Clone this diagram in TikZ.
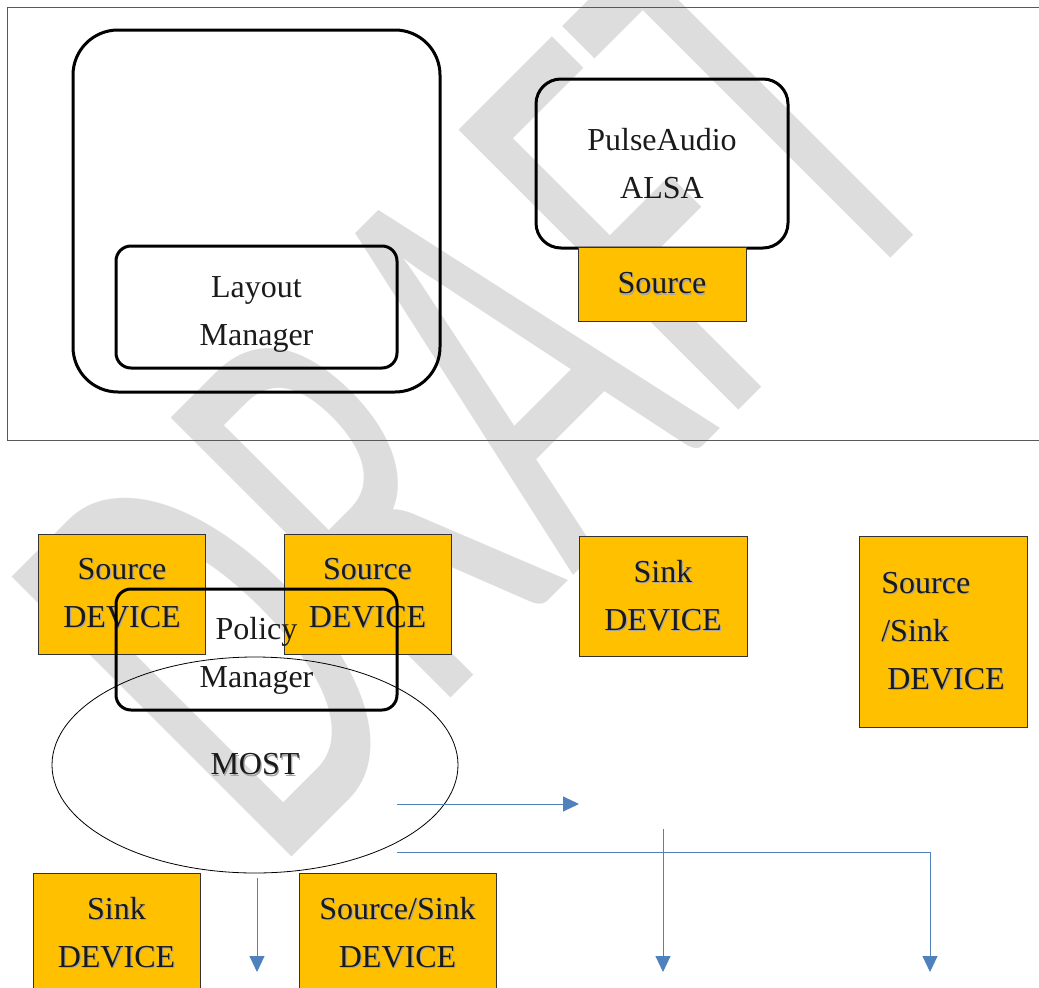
\documentclass[tikz,border=0pt]{standalone}
\usepackage{fontspec}
\setmainfont{Liberation Serif}
\newfontfamily\wmfont{Carlito}
\usepackage{tikz}
\usepackage{xcolor}
\usetikzlibrary{arrows.meta,positioning,shapes.geometric}
\definecolor{amber}  {HTML}{FFC000}
\definecolor{link}   {HTML}{4F81BD}
\definecolor{wmgrey} {HTML}{DDDDDD}
\definecolor{ink}    {HTML}{1A1A1A}

% text with a soft drop shadow
\newcommand{\shd}[1]{\leavevmode\rlap{\kern1.2pt\raisebox{-1.2pt}{\textcolor{black!35}{#1}}}#1}

\tikzset{
  label text/.style={font=\fontsize{32}{48}\selectfont,align=center,inner sep=0pt,text=ink},
  holder/.style={draw=black,line width=3pt,rounded corners=#1,label text},
  device/.style={draw=black!80,line width=0.8pt,fill=amber,label text,
                 minimum width=167pt,minimum height=120pt},
  flow/.style={draw=link,line width=1pt,-{Triangle[length=16pt,width=15pt]}},
}

\begin{document}
\begin{tikzpicture}[x=1pt,y=-1pt]
  \useasboundingbox (0,0) rectangle (1039,988);
  \clip (0,0) rectangle (1039,988);

  % watermark
  \node[anchor=base,rotate=45,inner sep=0pt,text=wmgrey,
        font=\wmfont\fontsize{617}{617}\selectfont] (wmark) at (620,529)
    {\scalebox{0.59}[1]{DRAFT}};

  % upper panel
  \node[draw=black!65,line width=1.2pt,anchor=north west,inner sep=0pt,
        minimum width=1060pt,minimum height=433pt] (panel) at (7,7) {};
  \node[holder=45pt,minimum width=367pt,minimum height=362pt] (appbox) at (256.5,211) {};
  \node[holder=15pt,minimum width=281pt,minimum height=122pt] (layout) at (256.5,307) {};
  \node[label text] (layouttxt) at ([yshift=-7pt]layout.center) {Layout\\Manager};
  \node[holder=25pt,minimum width=252pt,minimum height=169pt] (pulse) at (662,163.5)
    {PulseAudio\\ALSA};
  \node[device,minimum width=168pt,minimum height=74pt] (src) at (662,284) {\shd{Source}};

  % lower part
  \node[device] (srcdevA) at (122,594) {\shd{Source}\\\shd{DEVICE}};
  \node[device] (srcdevB) at (367.5,594) {\shd{Source}\\\shd{DEVICE}};
  \node[device,minimum width=168pt] (sinkdev) at (663,596) {\shd{Sink}\\\shd{DEVICE}};
  \node[device,minimum width=168pt,minimum height=191pt,align=left] (ssdev) at (943,631.5)
    {\shd{Source}\\\shd{/Sink}\\\hspace*{6pt}\shd{DEVICE}};
  \node[draw=black,line width=0.8pt,ellipse,label text,
        minimum width=406pt,minimum height=216pt] (most) at (255,765) {\shd{MOST}};
  \node[holder=15pt,minimum width=281pt,minimum height=121pt] (policy) at (256.5,649.5) {};
  \node[label text] (policytxt) at ([yshift=-6pt]policy.center) {Policy\\Manager};
  \node[device] (sinkdevB) at (116.5,933) {\shd{Sink}\\\shd{DEVICE}};
  \node[device,minimum width=197pt] (ssdevB) at (397.5,933) {\shd{Source/Sink}\\\shd{DEVICE}};

  % loose ends of the arrows
  \coordinate (busA)    at (397,804);
  \coordinate (busAend) at (579,804);
  \coordinate (busB)    at (397,852);
  \coordinate (busBend) at (930,972);
  \coordinate (dropA)   at (257,878);
  \coordinate (dropAend) at (257,972);
  \coordinate (dropB)   at (663,829);
  \coordinate (dropBend) at (663,972);

  \draw[flow] (busA) -- (busAend);
  \draw[flow] (busB) -| (busBend);
  \draw[flow] (dropA) -- (dropAend);
  \draw[flow] (dropB) -- (dropBend);
\end{tikzpicture}
\end{document}
